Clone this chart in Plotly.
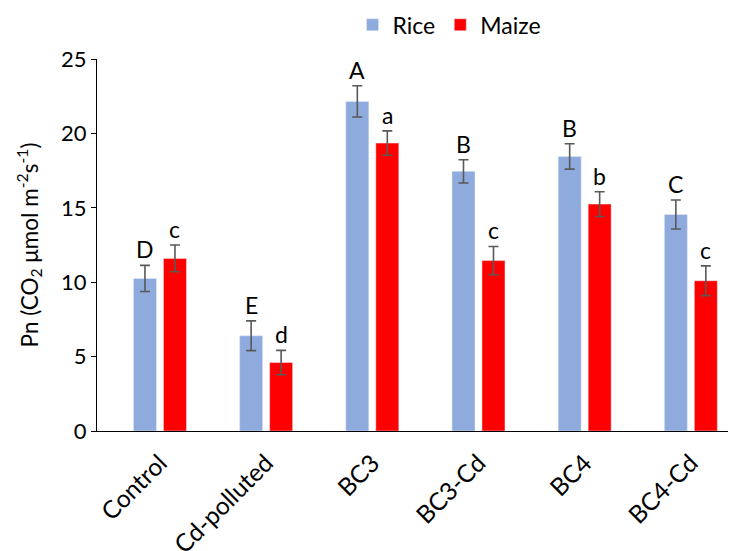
import plotly.graph_objects as go

categories = ["Control", "Cd-polluted", "BC3", "BC3-Cd", "BC4", "BC4-Cd"]
rice = [10.25, 6.4, 22.15, 17.45, 18.45, 14.55]
rice_err = [0.88, 1.0, 1.05, 0.78, 0.85, 0.97]
maize = [11.6, 4.6, 19.35, 11.45, 15.25, 10.1]
maize_err = [0.9, 0.82, 0.82, 0.95, 0.83, 1.0]
rice_letters = ["D", "E", "A", "B", "B", "C"]
maize_letters = ["c", "d", "a", "c", "b", "c"]

FONT = "Lato, 'Open Sans', sans-serif"
RICE_COLOR = "#8FAADC"
MAIZE_COLOR = "#FF0000"
ERR_COLOR = "#595959"

fig = go.Figure()
fig.add_trace(go.Bar(
    name="Rice", x=categories, y=rice, marker_color=RICE_COLOR,
    error_y=dict(type="data", array=rice_err, color=ERR_COLOR, thickness=1.6, width=5),
))
fig.add_trace(go.Bar(
    name="Maize", x=categories, y=maize, marker_color=MAIZE_COLOR,
    error_y=dict(type="data", array=maize_err, color=ERR_COLOR, thickness=1.6, width=5),
))

# significance letters above each error bar
slot = 0.2825
for i, cat in enumerate(categories):
    for val, err, lab, off in ((rice[i], rice_err[i], rice_letters[i], -slot / 2),
                               (maize[i], maize_err[i], maize_letters[i], slot / 2)):
        fig.add_annotation(
            x=i + off, y=val + err, text=lab, showarrow=False,
            yanchor="bottom", yshift=0, font=dict(family=FONT, size=23, color="black"),
        )

fig.update_layout(
    width=731, height=551,
    margin=dict(l=97, r=3, t=59, b=120, autoexpand=False),
    paper_bgcolor="white", plot_bgcolor="white",
    barmode="group", bargap=0.435, bargroupgap=0.233,
    font=dict(family=FONT, size=23, color="black"),
    legend=dict(orientation="h", x=0.405, xanchor="left",
                yref="container", y=0.955, yanchor="middle",
                font=dict(family=FONT, size=23), traceorder="normal"),
    showlegend=True,
)
# invisible ticks push the slanted category labels a little below the axis
fig.update_xaxes(
    range=[-0.593, 5.35], showline=True, linecolor="black", linewidth=1.2,
    ticks="outside", ticklen=7, tickcolor="rgba(0,0,0,0)",
    tickangle=-45, tickfont=dict(family=FONT, size=24.5, color="black"),
    showgrid=False, automargin=False,
)
fig.update_yaxes(
    range=[0, 25], dtick=5, showline=True, linecolor="black", linewidth=1.2,
    ticks="outside", ticklen=5, tickcolor="black", showgrid=False, zeroline=False,
    tickfont=dict(family=FONT, size=22, color="black"), automargin=False,
    title=dict(text="Pn (CO<sub>2</sub> μmol m<sup>-2</sup>s<sup>-1</sup>)",
               font=dict(family=FONT, size=22.5, color="black"), standoff=16),
)

fig.write_html("out.html")
